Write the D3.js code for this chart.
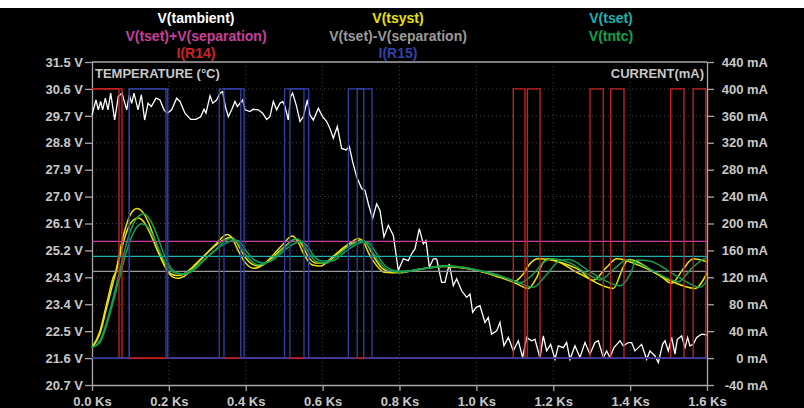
<!DOCTYPE html>
<html><head><meta charset="utf-8">
<script src="https://cdn.jsdelivr.net/npm/d3@7"></script>
<style>
html,body{margin:0;padding:0;background:#000;}
svg{display:block;}
text{font-family:"Liberation Sans",Arial,sans-serif;font-weight:bold;}
</style></head>
<body>
<svg id="c" width="804" height="408"></svg>
<script>
// ---------- DATA ----------
const timeTicks = [0,0.2,0.4,0.6,0.8,1.0,1.2,1.4,1.6];
const voltTicks = [20.7,21.6,22.5,23.4,24.3,25.2,26.1,27.0,27.9,28.8,29.7,30.6,31.5];
const currTicks = [-40,0,40,80,120,160,200,240,280,320,360,400,440];

const legendRows = [
  ["V(tambient)","V(tsyst)","V(tset)"],
  ["V(tset)+V(separation)","V(tset)-V(separation)","V(tntc)"],
  ["I(R14)","I(R15)"]
];

const tset = 25.0;
const separation = 0.5;

// V(tambient) [Ks, V]
const tambient = [
[0,29.73],[0.0104,30.23],[0.0165,29.90],[0.0225,30.18],[0.0277,29.90],[0.0347,30.29],[0.0416,29.90],[0.0486,30.46],
[0.059,29.56],[0.0685,30.35],[0.078,30.46],[0.0902,29.90],[0.0971,30.40],[0.1032,30.12],[0.1093,30.46],[0.1197,29.90],
[0.1284,30.40],[0.137,29.56],[0.1457,30.12],[0.1544,30.01],[0.1665,30.29],[0.1769,30.23],[0.1873,29.90],[0.196,29.79],
[0.2072,29.90],[0.2203,30.29],[0.2289,30.18],[0.2419,29.79],[0.2567,29.58],[0.2706,29.58],[0.2827,29.67],[0.2914,29.92],
[0.2966,29.79],[0.307,30.37],[0.314,30.12],[0.3243,30.23],[0.333,30.46],[0.3399,30.51],[0.3469,30.01],[0.3547,29.67],
[0.3633,29.90],[0.372,30.18],[0.3781,30.01],[0.385,30.12],[0.392,30.23],[0.398,29.90],[0.411,29.84],[0.4197,29.92],
[0.4327,29.90],[0.444,29.79],[0.4544,29.58],[0.463,29.67],[0.4717,30.18],[0.4804,29.90],[0.4891,30.12],[0.496,30.18],
[0.5021,30.01],[0.5107,29.56],[0.5168,30.35],[0.522,30.46],[0.5324,30.01],[0.5411,29.51],[0.5498,29.67],[0.5602,30.23],
[0.5671,29.73],[0.5758,29.56],[0.5888,29.95],[0.6001,29.67],[0.6105,29.51],[0.6191,29.28],[0.6278,28.95],[0.6382,29.34],
[0.6495,28.61],[0.6608,28.56],[0.6695,28.67],[0.6782,28.16],[0.6885,27.66],[0.7015,27.27],[0.7102,27.21],[0.7189,26.76],
[0.7301,26.26],[0.7405,26.76],[0.7492,26.54],[0.7596,25.65],[0.7709,26.04],[0.7839,25.70],[0.7969,24.53],[0.8099,24.92],
[0.8229,24.86],[0.8316,25.09],[0.8403,25.25],[0.8515,25.93],[0.862,25.42],[0.8689,25.53],[0.8776,24.64],[0.888,24.92],
[0.8966,24.92],[0.9096,24.13],[0.9183,24.13],[0.9296,24.75],[0.94,24.02],[0.9487,24.25],[0.9617,23.85],[0.9747,23.63],
[0.9834,23.74],[0.9903,23.13],[0.999,23.29],[1.0094,23.35],[1.0224,22.79],[1.031,22.96],[1.0397,22.40],[1.0527,22.51],
[1.0614,22.79],[1.0718,22.01],[1.0831,22.29],[1.0961,21.84],[1.1091,22.18],[1.1204,21.62],[1.1308,22.29],[1.1438,22.18],
[1.1524,22.23],[1.1655,21.60],[1.1741,22.34],[1.1828,21.84],[1.1932,22.06],[1.2045,21.56],[1.2131,22.01],[1.2262,21.95],
[1.2348,22.12],[1.2435,21.56],[1.2565,22.01],[1.2695,21.62],[1.2825,22.12],[1.2955,21.73],[1.3085,22.12],[1.3172,22.18],
[1.3302,21.62],[1.3389,21.84],[1.3476,21.62],[1.358,21.95],[1.3736,22.18],[1.3822,22.01],[1.3953,22.12],[1.4039,22.12],
[1.4126,21.84],[1.4299,22.06],[1.4429,21.56],[1.4516,21.84],[1.4646,21.67],[1.4733,21.45],[1.4845,22.06],[1.4906,22.18],
[1.4993,21.84],[1.508,22.29],[1.5167,21.73],[1.5227,22.23],[1.534,22.34],[1.5427,21.95],[1.5496,22.29],[1.5557,22.01],
[1.5643,22.06],[1.573,22.29],[1.586,22.40],[1.5973,22.38],[1.6,22.38]
];

// V(tsyst), two stepped runs
const tsystRun1 = [
[0,21.95],[0.0208,22.51],[0.038,23.41],[0.0555,24.3],[0.062,24.5],[0.07,25.0],[0.078,25.5],[0.087,25.95],[0.1,26.4],
[0.117,26.6],[0.132,26.48],[0.148,26.1],[0.165,25.5],[0.182,24.92],[0.197,24.5],[0.212,24.3],[0.225,24.27],[0.245,24.38],
[0.27,24.72],[0.3,25.12],[0.325,25.45],[0.345,25.7],[0.352,25.73],[0.365,25.6],[0.38,25.2],[0.398,24.8],[0.42,24.6],
[0.445,24.72],[0.475,25.1],[0.5,25.45],[0.515,25.65],[0.522,25.68],[0.535,25.5],[0.552,25.05],[0.572,24.72],[0.595,24.68],
[0.625,24.98],[0.655,25.3],[0.68,25.52],[0.692,25.6],[0.705,25.5],[0.72,25.1],[0.74,24.7],[0.76,24.47],[0.8,24.45],
[0.85,24.57],[0.92,24.68],[0.97,24.62],[1.01,24.5],[1.06,24.33],[1.1,24.17],[1.12,24.38],[1.139,24.75],[1.161,24.92],
[1.226,24.77],[1.27,24.53],[1.304,24.2],[1.339,24.64],[1.365,24.92],[1.425,24.69],[1.478,24.36],[1.508,24.1],[1.538,24.58],
[1.564,24.92],[1.6,24.82]
];
const tsystRun2 = [
[0,21.95],[0.0208,22.42],[0.038,23.28],[0.0555,24.15],[0.065,24.6],[0.075,25.15],[0.087,25.7],[0.1,26.1],[0.12,26.28],
[0.135,26.15],[0.152,25.75],[0.17,25.2],[0.188,24.7],[0.205,24.42],[0.222,24.36],[0.24,24.42],[0.27,24.75],[0.3,25.12],
[0.33,25.45],[0.355,25.62],[0.362,25.63],[0.375,25.5],[0.392,25.1],[0.41,24.8],[0.432,24.68],[0.46,24.85],[0.49,25.2],
[0.515,25.48],[0.53,25.58],[0.545,25.42],[0.562,25.0],[0.582,24.78],[0.608,24.78],[0.64,25.1],[0.67,25.38],[0.695,25.52],
[0.705,25.53],[0.718,25.35],[0.735,24.95],[0.755,24.6],[0.78,24.47],[0.82,24.5],[0.87,24.6],[0.92,24.66],[0.97,24.6],
[1.01,24.5],[1.06,24.3],[1.1,24.12],[1.135,23.93],[1.157,24.3],[1.174,24.81],[1.187,24.92],[1.27,24.41],[1.356,23.93],
[1.382,24.64],[1.395,24.9],[1.486,24.3],[1.569,23.93],[1.6,24.45]
];

// V(tntc), two stepped runs
const tntcRun1 = [
[0,21.95],[0.0208,22.18],[0.038,22.8],[0.0555,23.63],[0.07,24.4],[0.085,25.2],[0.1,25.85],[0.118,26.3],[0.134,26.43],
[0.15,26.25],[0.168,25.75],[0.185,25.15],[0.202,24.68],[0.22,24.45],[0.24,24.4],[0.26,24.5],[0.29,24.85],[0.32,25.2],
[0.345,25.5],[0.36,25.6],[0.372,25.55],[0.39,25.25],[0.41,24.9],[0.432,24.72],[0.46,24.82],[0.49,25.15],[0.515,25.45],
[0.532,25.59],[0.548,25.45],[0.565,25.1],[0.585,24.82],[0.61,24.78],[0.64,25.05],[0.67,25.35],[0.695,25.5],[0.706,25.53],
[0.722,25.3],[0.745,24.85],[0.77,24.55],[0.8,24.47],[0.85,24.57],[0.92,24.68],[0.97,24.63],[1.01,24.52],[1.06,24.36],
[1.113,24.12],[1.148,24.41],[1.175,24.8],[1.196,24.92],[1.24,24.8],[1.296,24.36],[1.322,24.21],[1.36,24.6],[1.391,24.88],
[1.44,24.65],[1.5,24.25],[1.525,24.15],[1.56,24.6],[1.59,24.9],[1.6,24.95]
];
const tntcRun2 = [
[0,21.95],[0.0208,22.12],[0.038,22.7],[0.0555,23.5],[0.07,24.2],[0.085,24.95],[0.1,25.55],[0.115,25.95],[0.13,26.09],
[0.145,25.98],[0.162,25.6],[0.18,25.05],[0.198,24.65],[0.215,24.45],[0.235,24.42],[0.26,24.55],[0.29,24.88],[0.32,25.2],
[0.35,25.45],[0.372,25.55],[0.383,25.5],[0.4,25.2],[0.42,24.9],[0.445,24.78],[0.475,24.92],[0.505,25.25],[0.53,25.45],
[0.545,25.5],[0.56,25.35],[0.578,25.0],[0.6,24.85],[0.625,24.85],[0.655,25.12],[0.685,25.38],[0.708,25.48],[0.72,25.45],
[0.735,25.2],[0.755,24.8],[0.78,24.55],[0.81,24.5],[0.87,24.6],[0.92,24.67],[0.97,24.62],[1.01,24.52],[1.06,24.34],
[1.1,24.18],[1.148,23.97],[1.18,24.35],[1.218,24.86],[1.24,24.9],[1.3,24.45],[1.374,24.02],[1.4,24.4],[1.417,24.88],
[1.45,24.85],[1.52,24.35],[1.582,23.97],[1.6,24.2]
];

// I(R14) heater current, mA, step changes [Ks, mA]
const r14Run1 = [[0,400],[0.0703,0],[1.096,400],[1.1265,0],[1.2956,400],[1.330,0],[1.5055,400],[1.540,0],[1.6,0]];
const r14Run2 = [[0,400],[0.078,0],[1.1325,400],[1.1655,0],[1.3495,400],[1.384,0],[1.564,400],[1.597,0],[1.6,0]];
// I(R15) cooler current, mA
const r15Run1 = [[0,0],[0.097,400],[0.1925,0],[0.331,400],[0.387,0],[0.501,400],[0.5515,0],[0.667,400],[0.707,0],[1.6,0]];
const r15Run2 = [[0,0],[0.097,400],[0.197,0],[0.3434,400],[0.3955,0],[0.515,400],[0.5638,0],[0.690,400],[0.7285,0],[1.6,0]];

// ---------- DRAW ----------
const col = {amb:"#ffffff", tsyst:"#e8e010", tset:"#1fb0b0", plus:"#c8409c", minus:"#9a9a9a",
             ntc:"#12a050", r14:"#d02222", r15:"#3240a8", axis:"#a8a8a8", label:"#c8c8c8", grid:"#555"};
const X0=92, X1=707, Y0=62, Y1=385;
const svg = d3.select("#c");
svg.append("rect").attr("width",804).attr("height",408).attr("fill","#000");
svg.append("rect").attr("width",804).attr("height",8).attr("fill","#fff");

const x = d3.scaleLinear().domain([0,1.6]).range([X0,X1]);
const yL = d3.scaleLinear().domain([20.7,31.5]).range([Y1,Y0]);
const yR = d3.scaleLinear().domain([-40,440]).range([Y1,Y0]);

// grid
const g = svg.append("g");
g.selectAll("line.h").data(voltTicks.slice(1,-1)).join("line")
  .attr("x1",X0).attr("x2",X1).attr("y1",d=>yL(d)).attr("y2",d=>yL(d))
  .attr("stroke",col.grid).attr("stroke-width",0.8).attr("stroke-dasharray","1,3");
g.selectAll("line.v").data(timeTicks.slice(1,-1)).join("line")
  .attr("y1",Y0).attr("y2",Y1).attr("x1",d=>x(d)).attr("x2",d=>x(d))
  .attr("stroke",col.grid).attr("stroke-width",0.8).attr("stroke-dasharray","1,3");

// axes
function styleAxis(sel){
  sel.selectAll("path.domain").attr("stroke",col.axis).attr("stroke-width",1.3);
  sel.selectAll(".tick line").attr("stroke",col.axis).attr("stroke-width",1.3);
  sel.selectAll(".tick text").attr("fill",col.label).attr("font-size","13px")
     .attr("font-family","Liberation Sans, Arial, sans-serif").attr("font-weight","bold");
}
svg.append("g").attr("transform",`translate(${X0},0)`)
  .call(d3.axisLeft(yL).tickValues(voltTicks).tickFormat(d=>d.toFixed(1)+" V").tickSize(7).tickSizeOuter(0).tickPadding(2))
  .call(styleAxis);
svg.append("g").attr("transform",`translate(${X1},0)`)
  .call(d3.axisRight(yR).tickValues(currTicks).tickFormat(d=>d+" mA").tickSize(7).tickSizeOuter(0).tickPadding(2))
  .call(styleAxis)
  .call(s=>s.selectAll(".tick text").attr("text-anchor","end").attr("x",61));
svg.append("g").attr("transform",`translate(0,${Y1})`)
  .call(d3.axisBottom(x).tickValues(timeTicks).tickFormat(d=>d.toFixed(1)+" Ks").tickSize(6).tickSizeOuter(0).tickPadding(6))
  .call(styleAxis);
svg.append("line").attr("x1",X0).attr("x2",X1).attr("y1",Y0).attr("y2",Y0).attr("stroke",col.axis).attr("stroke-width",1.3);

svg.append("text").attr("x",X0+3).attr("y",Y0+16).attr("fill",col.label).attr("font-size","13px").text("TEMPERATURE (°C)");
svg.append("text").attr("x",X1-3).attr("y",Y0+16).attr("text-anchor","end").attr("fill",col.label).attr("font-size","13px").text("CURRENT(mA)");

// traces
const plot = svg.append("g");
const lineV = d3.line().x(d=>x(d[0])).y(d=>yL(d[1]));
const smoothV = d3.line().x(d=>x(d[0])).y(d=>yL(d[1])).curve(d3.curveMonotoneX);
const stepI = d3.line().x(d=>x(d[0])).y(d=>yR(d[1])).curve(d3.curveStepAfter);

plot.append("path").attr("d",lineV(tambient)).attr("fill","none").attr("stroke",col.amb).attr("stroke-width",1.3);
[tsystRun1,tsystRun2].forEach(s=>plot.append("path").attr("d",smoothV(s)).attr("fill","none").attr("stroke",col.tsyst).attr("stroke-width",1.5));
const flat = v=>[[0,v],[1.6,v]];
plot.append("path").attr("d",lineV(flat(tset))).attr("stroke",col.tset).attr("stroke-width",1.3);
plot.append("path").attr("d",lineV(flat(tset+separation))).attr("stroke",col.plus).attr("stroke-width",1.3);
plot.append("path").attr("d",lineV(flat(tset-separation))).attr("stroke",col.minus).attr("stroke-width",1.3);
[tntcRun1,tntcRun2].forEach(s=>plot.append("path").attr("d",smoothV(s)).attr("fill","none").attr("stroke",col.ntc).attr("stroke-width",1.5));
[r14Run1,r14Run2].forEach(s=>plot.append("path").attr("d",stepI(s)).attr("fill","none").attr("stroke",col.r14).attr("stroke-width",1.3));
[r15Run1,r15Run2].forEach(s=>plot.append("path").attr("d",stepI(s)).attr("fill","none").attr("stroke",col.r15).attr("stroke-width",1.3));

// legend
const legColors = [[col.amb,col.tsyst,col.tset],[col.plus,col.minus,col.ntc],[col.r14,col.r15]];
const legX = [196,398,611], legY = [23,41,58];
legendRows.forEach((row,i)=>row.forEach((t,j)=>{
  svg.append("text").attr("x",legX[j]).attr("y",legY[i]).attr("text-anchor","middle")
    .attr("fill",legColors[i][j]).attr("font-size","14px").text(t);
}));
</script>
</body></html>
